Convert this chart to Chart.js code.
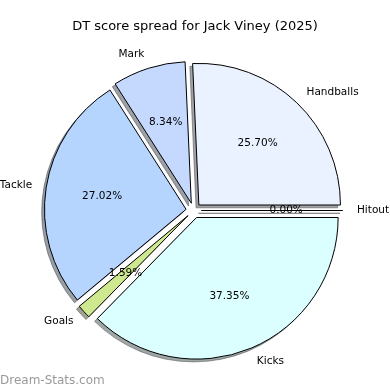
<!DOCTYPE html>
<html>
<head>
<meta charset="utf-8">
<script src="https://cdn.jsdelivr.net/npm/chart.js@4.4.1/dist/chart.umd.min.js"></script>
<style>
  html,body{margin:0;padding:0;background:#fff;}
  #wrap{width:390px;height:390px;}
</style>
</head>
<body>
<div id="wrap"><canvas id="cPie" width="390" height="390"></canvas></div>
<script>
// DT score spread — exploded pie with drop shadows, matplotlib look.
// Slices listed clockwise from 3 o'clock (the source draws them anticlockwise from Handballs).
const LABELS=['Hitout','Kicks','Goals','Tackle','Mark','Handballs'];
const SHARE=[0.00,37.35,1.59,27.02,8.34,25.70];
const COLORS=['#f2f2ff','#dbffff','#cde88e','#b5d5ff','#c5d9fe','#eaf1ff'];
const TITLE='DT score spread for Jack Viney (2025)';
const WATERMARK='Dream-Stats.com';

const RADIUS=141.6, EXPLODE=7.6, SHADOW=2.8;
const FONT="'DejaVu Sans', sans-serif";

function shade(hex){
  const n=parseInt(hex.slice(1),16);
  const r=(n>>16)&255, g=(n>>8)&255, b=n&255;
  return 'rgba('+Math.round(r*0.3)+','+Math.round(g*0.3)+','+Math.round(b*0.3)+',0.5)';
}
function pushOut(a){
  const m=(a.startAngle+a.endAngle)/2;
  return [Math.cos(m)*EXPLODE, Math.sin(m)*EXPLODE];
}

// draw every wedge pushed out along its middle angle, shadow first
const explodedPie={
  id:'explodedPie',
  beforeDatasetDraw(chart,args){
    const ctx=chart.ctx, arcs=args.meta.data;
    arcs.forEach((a,i)=>{
      const [dx,dy]=pushOut(a);
      ctx.save();
      ctx.translate(dx-SHADOW, dy+SHADOW);
      ctx.beginPath();
      ctx.moveTo(a.x,a.y);
      ctx.arc(a.x,a.y,a.outerRadius,a.startAngle,a.endAngle);
      ctx.closePath();
      ctx.fillStyle=shade(COLORS[i]);
      ctx.strokeStyle=shade(COLORS[i]);
      ctx.lineWidth=1;
      if(a.circumference>0) ctx.fill();
      ctx.stroke();
      ctx.restore();
    });
    arcs.forEach(a=>{
      const [dx,dy]=pushOut(a);
      ctx.save();
      ctx.translate(dx,dy);
      if(a.circumference>0){
        a.draw(ctx);
      }else{
        // zero share still shows as an edge line
        ctx.beginPath();
        ctx.moveTo(a.x,a.y);
        ctx.lineTo(a.x+Math.cos(a.startAngle)*a.outerRadius, a.y+Math.sin(a.startAngle)*a.outerRadius);
        ctx.strokeStyle='#000';
        ctx.lineWidth=1;
        ctx.stroke();
      }
      ctx.restore();
    });
    return false;
  },
  afterDatasetsDraw(chart){
    const ctx=chart.ctx, meta=chart.getDatasetMeta(0);
    const vals=chart.data.datasets[0].data;
    const total=vals.reduce((s,v)=>s+v,0);
    ctx.save();
    ctx.fillStyle='#000';
    ctx.font='10.5px '+FONT;
    ctx.textBaseline='middle';
    meta.data.forEach((a,i)=>{
      const m=(a.startAngle+a.endAngle)/2, c=Math.cos(m), s=Math.sin(m);
      const lr=EXPLODE+1.1*a.outerRadius, pr=EXPLODE+0.6*a.outerRadius;
      ctx.textAlign=c>0?'left':'right';
      ctx.fillText(chart.data.labels[i], a.x+c*lr, a.y+s*lr);
      ctx.textAlign='center';
      ctx.fillText((vals[i]/total*100).toFixed(2)+'%', a.x+c*pr, a.y+s*pr);
    });
    // title + watermark
    ctx.textAlign='center';
    ctx.textBaseline='alphabetic';
    ctx.font='13px '+FONT;
    ctx.fillText(TITLE, 195, 30);
    ctx.textAlign='left';
    ctx.fillStyle='#9a9a9a';
    ctx.font='12px '+FONT;
    ctx.fillText(WATERMARK, 0, 384);
    ctx.restore();
  }
};

new Chart(document.getElementById('cPie'),{
  type:'pie',
  data:{labels:LABELS,
    datasets:[{data:SHARE, backgroundColor:COLORS, borderColor:'#000', borderWidth:1, offset:0}]},
  options:{
    responsive:false, animation:false, events:[], devicePixelRatio:1,
    rotation:90, radius:RADIUS,
    layout:{padding:{top:40,bottom:9,left:0,right:2.8}},
    plugins:{legend:{display:false}, tooltip:{enabled:false}, title:{display:false}}
  },
  plugins:[explodedPie]
});
</script>
</body>
</html>
